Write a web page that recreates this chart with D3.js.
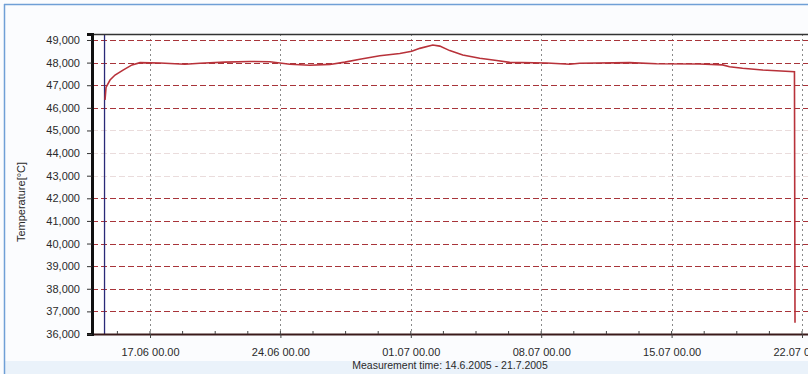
<!DOCTYPE html>
<html>
<head>
<meta charset="utf-8">
<script src="https://cdn.jsdelivr.net/npm/d3@7"></script>
<style>
    body { margin: 0; background: #fff; }
    text { font-family: "Liberation Sans", Arial, sans-serif; }
</style>
</head>
<body>
<script>
    var times = ["2005-06-14 14:04", "2005-06-14 15:20", "2005-06-14 20:30", "2005-06-15 02:57",
        "2005-06-15 13:15", "2005-06-16 00:50", "2005-06-16 11:08", "2005-06-17 12:52",
        "2005-06-18 21:03", "2005-06-19 16:22", "2005-06-21 00:33", "2005-06-22 08:44",
        "2005-06-23 10:29", "2005-06-24 12:14", "2005-06-25 14:00", "2005-06-26 15:43",
        "2005-06-27 11:03", "2005-06-28 06:20", "2005-06-29 08:05", "2005-06-30 09:50",
        "2005-07-01 01:15", "2005-07-01 11:34", "2005-07-02 04:19", "2005-07-02 13:20",
        "2005-07-03 02:10", "2005-07-03 18:57", "2005-07-04 16:50", "2005-07-05 14:40",
        "2005-07-06 07:25", "2005-07-08 07:05", "2005-07-09 12:40", "2005-07-10 01:34",
        "2005-07-12 18:00", "2005-07-14 04:41", "2005-07-16 12:00", "2005-07-17 17:38",
        "2005-07-18 02:38", "2005-07-18 19:25", "2005-07-19 21:10", "2005-07-20 15:10",
        "2005-07-21 14:17", "2005-07-21 15:00"];
    var temps = [46.35, 46.9, 47.23, 47.45,
        47.67, 47.9, 48.0, 47.98,
        47.93, 47.97, 48.02, 48.05,
        48.04, 47.93, 47.88, 47.92,
        48.02, 48.15, 48.3, 48.4,
        48.5, 48.63, 48.78, 48.73,
        48.53, 48.34, 48.19, 48.09,
        48.01, 47.98, 47.93, 47.97,
        48.0, 47.95, 47.94, 47.9,
        47.82, 47.75, 47.67, 47.64,
        47.6, 36.5];

    var yTicks = [36, 37, 38, 39, 40, 41, 42, 43, 44, 45, 46, 47, 48, 49];
    var fadedRows = [43, 44, 45];
    var xTicks = ["2005-06-17 00:00", "2005-06-24 00:00", "2005-07-01 00:00",
        "2005-07-08 00:00", "2005-07-15 00:00", "2005-07-22 00:00"];
    var yTitle = "Temperature[°C]";
    var xTitle = "Measurement time: 14.6.2005 - 21.7.2005";

    var parse = d3.timeParse("%Y-%m-%d %H:%M");
    var data = [];
    for (var i = 0; i < times.length; i++) {
        data.push({date: parse(times[i]), val: temps[i]});
    }
    var tickDates = xTicks.map(parse);

    var W = 808, H = 374;
    var pLeft = 92, pTop = 34, pBottom = 334, pRight = 808;

    var svg = d3.select("body").append("svg")
        .attr("width", W)
        .attr("height", H);

    // window frame
    svg.append("rect").attr("x", 0).attr("y", 0).attr("width", W).attr("height", H).attr("fill", "#fbfcfe");
    svg.append("rect").attr("x", 4).attr("y", 361).attr("width", W - 4).attr("height", H - 361).attr("fill", "#eaf2fa");
    svg.append("line").attr("x1", 4).attr("x2", W).attr("y1", 4.5).attr("y2", 4.5)
        .attr("stroke", "#6f9fd6").attr("stroke-width", 1.5);
    svg.append("line").attr("x1", 4.5).attr("x2", 4.5).attr("y1", 4).attr("y2", H)
        .attr("stroke", "#6f9fd6").attr("stroke-width", 1.5);

    var xScale = d3.scaleTime()
        .domain([tickDates[0], tickDates[tickDates.length - 1]])
        .range([150, 802]);
    var yScale = d3.scaleLinear()
        .domain([36, 49.265])
        .range([pBottom, pTop]);

    svg.append("defs").append("clipPath").attr("id", "plot")
        .append("rect").attr("x", pLeft).attr("y", pTop - 1).attr("width", pRight - pLeft).attr("height", pBottom - pTop + 2);

    svg.append("rect").attr("x", pLeft).attr("y", pTop).attr("width", pRight - pLeft).attr("height", pBottom - pTop)
        .attr("fill", "#fff");

    var plot = svg.append("g").attr("clip-path", "url(#plot)");

    // vertical grid
    plot.selectAll(".vgrid").data(tickDates).enter().append("line")
        .attr("x1", function(d){ return Math.round(xScale(d)) + 0.5; })
        .attr("x2", function(d){ return Math.round(xScale(d)) + 0.5; })
        .attr("y1", pTop).attr("y2", pBottom)
        .attr("stroke", "#8a8a8a")
        .attr("stroke-dasharray", "2 3");

    // horizontal grid
    plot.selectAll(".hgrid").data(yTicks).enter().append("line")
        .attr("x1", pLeft).attr("x2", pRight)
        .attr("y1", function(d){ return Math.round(yScale(d)) + 0.5; })
        .attr("y2", function(d){ return Math.round(yScale(d)) + 0.5; })
        .attr("stroke", function(d){ return fadedRows.indexOf(d) >= 0 ? "#eadcdc" : "#a8343a"; })
        .attr("stroke-width", 1.2)
        .attr("stroke-dasharray", "6 3");

    // start marker
    plot.append("line")
        .attr("x1", xScale(data[0].date) - 0.5).attr("x2", xScale(data[0].date) - 0.5)
        .attr("y1", pTop).attr("y2", pBottom)
        .attr("stroke", "#2a2a78").attr("stroke-width", 1.3);

    var line = d3.line()
        .x(function(d){ return xScale(d.date); })
        .y(function(d){ return yScale(d.val); });

    plot.append("path")
        .datum(data)
        .attr("fill", "none")
        .attr("stroke", "#b8323a")
        .attr("stroke-width", 1.6)
        .attr("d", line);

    // frame lines
    svg.append("line").attr("x1", pLeft).attr("x2", pRight).attr("y1", pTop + 0.5).attr("y2", pTop + 0.5)
        .attr("stroke", "#333").attr("stroke-width", 1.5);
    svg.append("line").attr("x1", pLeft).attr("x2", pRight).attr("y1", pBottom + 0.5).attr("y2", pBottom + 0.5)
        .attr("stroke", "#3a1a1a").attr("stroke-width", 2);

    // y axis
    var fmt = d3.formatLocale({decimal: ",", thousands: ".", grouping: [3], currency: ["", ""]}).format(".3f");
    var yAxis = svg.append("g")
        .attr("transform", "translate(" + pLeft + ",0)")
        .call(d3.axisLeft(yScale).tickValues(yTicks).tickFormat(fmt).tickSize(5).tickPadding(7));
    yAxis.select(".domain").attr("stroke", "#111").attr("stroke-width", 3);
    yAxis.selectAll("line").attr("stroke", "#333");
    yAxis.selectAll("text")
        .style("font-size", "11px")
        .attr("fill", "#2a2a2a");

    // x axis
    var xAxis = svg.append("g")
        .attr("transform", "translate(0," + pBottom + ")")
        .call(d3.axisBottom(xScale).tickValues(tickDates)
            .tickFormat(d3.timeFormat("%d.%m %H.%M")).tickSize(4).tickPadding(10));
    xAxis.select(".domain").remove();
    xAxis.selectAll("line").attr("stroke", "#444");
    xAxis.selectAll("text")
        .style("font-size", "11px")
        .attr("fill", "#2a2a2a");

    // minor ticks, 4 per week
    var minor = [];
    var t0 = d3.timeHour.offset(tickDates[0], -42);
    for (var k = 0; k < 25; k++) {
        var t = d3.timeHour.offset(t0, 42 * k);
        if (xScale(t) > pLeft && xScale(t) < pRight) minor.push(t);
    }
    svg.selectAll(".minor").data(minor).enter().append("line")
        .attr("x1", function(d){ return xScale(d); })
        .attr("x2", function(d){ return xScale(d); })
        .attr("y1", pBottom - 3).attr("y2", pBottom)
        .attr("stroke", "#444");

    // titles
    svg.append("text")
        .attr("transform", "translate(25,202) rotate(-90)")
        .attr("text-anchor", "middle")
        .style("font-size", "11px")
        .attr("fill", "#2a2a2a")
        .text(yTitle);

    svg.append("text")
        .attr("x", 450).attr("y", 369)
        .attr("text-anchor", "middle")
        .style("font-size", "10.5px")
        .attr("fill", "#2a2a2a")
        .text(xTitle);
</script>
</body>
</html>
